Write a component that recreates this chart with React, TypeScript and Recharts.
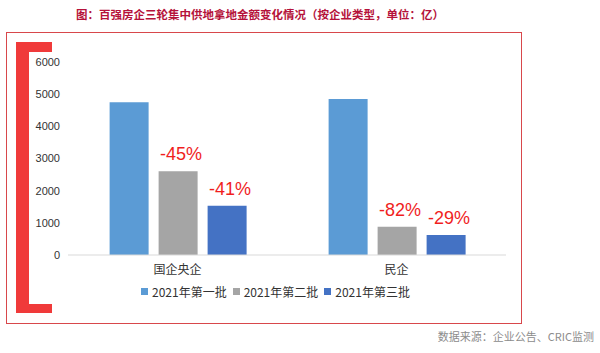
import React from 'react'
import { BarChart, Bar, XAxis, YAxis, Legend, LabelList } from 'recharts'

const categories = ['国企央企', '民企']
const batch1 = [4750, 4850]
const batch2 = [2600, 880]
const batch3 = [1530, 625]
const change2 = ['-45%', '-82%']
const change3 = ['-41%', '-29%']
const yTicks = [0, 1000, 2000, 3000, 4000, 5000, 6000]

const seriesNames = ['2021年第一批', '2021年第二批', '2021年第三批']
const colors = ['#5B9BD5', '#A5A5A5', '#4472C4']

const data = categories.map((name, i) => ({
  name,
  b1: batch1[i],
  b2: batch2[i],
  b3: batch3[i],
  c2: change2[i],
  c3: change3[i],
}))

const cjk = '"Noto Sans CJK SC", "Noto Sans", sans-serif'

// red percentage label sitting above the bar
const ChangeLabel = (props: any) => {
  const { x, y, width, value } = props
  return (
    <text
      x={x + width / 2 + 3}
      y={y - 11}
      textAnchor="middle"
      fill="#F01E1E"
      fontSize={18}
      fontFamily='"Liberation Sans", Arial, sans-serif'
    >
      {value}
    </text>
  )
}

const LegendBox = (props: any) => {
  // keep series order (legend sorts by name otherwise)
  const items = [...(props.payload || [])].sort(
    (a: any, b: any) => seriesNames.indexOf(a.value) - seriesNames.indexOf(b.value)
  )
  return (
    <div style={{ display: 'flex', alignItems: 'center', fontFamily: cjk, fontSize: 12, color: '#333' }}>
      {items.map((it: any) => (
        <div key={it.value} style={{ display: 'flex', alignItems: 'center', marginRight: 6 }}>
          <span style={{ width: 7, height: 7, background: it.color, display: 'inline-block', marginRight: 4 }} />
          <span>{it.value}</span>
        </div>
      ))}
    </div>
  )
}

export default function App() {
  return (
    <div style={{ position: 'absolute', left: 0, top: 0, width: 600, height: 353, background: '#fff', overflow: 'hidden' }}>
      <div
        style={{
          position: 'absolute',
          left: 0,
          top: 6,
          width: 520,
          textAlign: 'center',
          fontFamily: cjk,
          fontWeight: 'bold',
          fontSize: 11.5,
          color: '#B5123A',
        }}
      >
        图：百强房企三轮集中供地拿地金额变化情况（按企业类型，单位：亿）
      </div>

      {/* outer frame */}
      <div style={{ position: 'absolute', left: 6, top: 32, width: 514, height: 290, border: '1px solid #D8474B' }} />

      {/* red bracket */}
      <div style={{ position: 'absolute', left: 16, top: 42, width: 13, height: 271, background: '#F03A3A' }} />
      <div style={{ position: 'absolute', left: 16, top: 42, width: 36, height: 10, background: '#F03A3A' }} />
      <div style={{ position: 'absolute', left: 16, top: 304, width: 36, height: 9, background: '#F03A3A' }} />

      <div style={{ position: 'absolute', left: 0, top: 0 }}>
        <BarChart
          width={600}
          height={353}
          data={data}
          margin={{ top: 62, right: 94, left: 8, bottom: 68 }}
          barCategoryGap="19%"
          barGap={10}
        >
          <XAxis
            dataKey="name"
            tickLine={false}
            axisLine={{ stroke: '#D9D9D9' }}
            tickMargin={4}
            tick={{ fontSize: 12, fill: '#333', fontFamily: cjk }}
          />
          <YAxis
            width={60}
            domain={[0, 6000]}
            ticks={yTicks}
            axisLine={false}
            tickLine={false}
            tick={{ fontSize: 11, fill: '#333', fontFamily: '"Liberation Sans", Arial, sans-serif' }}
          />
          <Legend
            verticalAlign="middle"
            layout="horizontal"
            content={<LegendBox />}
            wrapperStyle={{ left: 141, top: 283, width: 300, height: 16 }}
          />
          <Bar dataKey="b1" name={seriesNames[0]} fill={colors[0]} isAnimationActive={false} />
          <Bar dataKey="b2" name={seriesNames[1]} fill={colors[1]} isAnimationActive={false}>
            <LabelList dataKey="c2" content={<ChangeLabel />} />
          </Bar>
          <Bar dataKey="b3" name={seriesNames[2]} fill={colors[2]} isAnimationActive={false}>
            <LabelList dataKey="c3" content={<ChangeLabel />} />
          </Bar>
        </BarChart>
      </div>

      <div
        style={{
          position: 'absolute',
          right: 6,
          top: 328,
          fontFamily: cjk,
          fontSize: 11,
          color: '#8C8C8C',
        }}
      >
        数据来源：企业公告、CRIC监测
      </div>
    </div>
  )
}
